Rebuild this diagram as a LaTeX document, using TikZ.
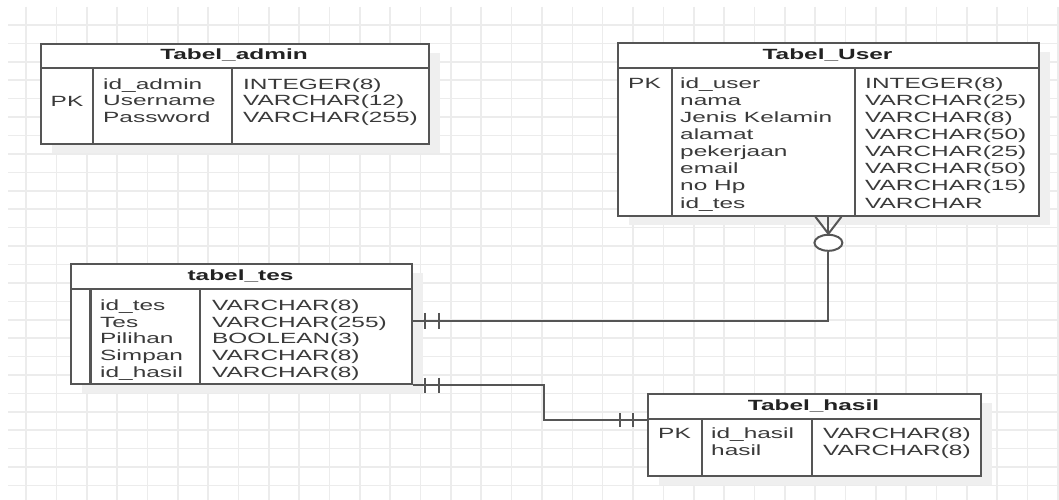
\documentclass[tikz,border=0pt]{standalone}
\usepackage{fontspec}
\usetikzlibrary{shapes.geometric}
\setmainfont{Liberation Sans}[FakeStretch=1.65]
\definecolor{gridc}{HTML}{ECECEC}
\definecolor{linec}{HTML}{555555}
\definecolor{txt}{HTML}{3A3A3A}
\definecolor{hdrc}{HTML}{222222}
\definecolor{shad}{HTML}{EFEFEF}
\tikzset{
  tbl/.style={draw=linec, line width=1.8pt, fill=white, anchor=north west, inner sep=0pt},
  tline/.style={draw=linec, line width=1.8pt},
  conn/.style={draw=linec, line width=2pt},
  cell/.style={anchor=base west, inner sep=0pt, text=txt, font=\fontsize{14.8}{17}\selectfont},
  hdr/.style={inner sep=0pt, text=hdrc, font=\fontsize{14.8}{17}\selectfont\bfseries},
  pk/.style={inner sep=0pt, text=txt, font=\fontsize{14.8}{17}\selectfont}
}
\begin{document}
\begin{tikzpicture}[x=1pt,y=-1pt]
\useasboundingbox[fill=white] (0,0) rectangle (1059,500);
% grid
\foreach \k in {0,...,34} \draw[gridc, line width=1.6pt] (26+30.35*\k,7) -- (26+30.35*\k,500);
\foreach \k in {0,...,25} \draw[gridc, line width=1.6pt] (8,25+18.42*\k) -- (1059,25+18.42*\k);
% shadows
\fill[shad] (52,53) rectangle (440,153);
\fill[shad] (629,52) rectangle (1050,225);
\fill[shad] (82,273) rectangle (423,393);
\fill[shad] (659,403) rectangle (992,485);

% Tabel_admin
\node[tbl, minimum width=388pt, minimum height=100pt] (admin) at (40,43) {};
\draw[tline] (40,68) -- (428,68);
\draw[tline] (93,68) -- (93,143);
\draw[tline] (232,68) -- (232,143);
\node[hdr] (adminh) at (234,55.5) {Tabel\_admin};
\node[pk] (adminpk) at (67,101) {PK};
\foreach \n/\t [count=\i from 0] in {id\_admin/INTEGER(8), Username/VARCHAR(12), Password/VARCHAR(255)} {
  \node[cell] (an\i) at (103,84+16.5*\i+5.3) {\n};
  \node[cell] (at\i) at (243,84+16.5*\i+5.3) {\t};
}

% Tabel_User
\node[tbl, minimum width=421pt, minimum height=173pt] (user) at (617,42) {};
\draw[tline] (617,68) -- (1038,68);
\draw[tline] (672,68) -- (672,215);
\draw[tline] (855,68) -- (855,215);
\node[hdr] (userh) at (827.5,55) {Tabel\_User};
\node[pk] (userpk) at (644.5,83) {PK};
\foreach \n/\t [count=\i from 0] in {id\_user/INTEGER(8), nama/VARCHAR(25), Jenis Kelamin/VARCHAR(8), alamat/VARCHAR(50), pekerjaan/VARCHAR(25), email/VARCHAR(50), no Hp/VARCHAR(15), id\_tes/VARCHAR} {
  \node[cell] (un\i) at (680,83+17.1*\i+5.3) {\n};
  \node[cell] (ut\i) at (865,83+17.1*\i+5.3) {\t};
}

% tabel_tes
\node[tbl, minimum width=341pt, minimum height=120pt] (tes) at (70,263) {};
\draw[tline] (70,289) -- (411,289);
\draw[draw=linec, line width=3pt] (90,289) -- (90,383);
\draw[tline] (200,289) -- (200,383);
\node[hdr] (tesh) at (240.5,276) {tabel\_tes};
\foreach \n/\t [count=\i from 0] in {id\_tes/VARCHAR(8), Tes/VARCHAR(255), Pilihan/BOOLEAN(3), Simpan/VARCHAR(8), id\_hasil/VARCHAR(8)} {
  \node[cell] (tn\i) at (100,305+16.75*\i+5.3) {\n};
  \node[cell] (tt\i) at (212,305+16.75*\i+5.3) {\t};
}

% Tabel_hasil
\node[tbl, minimum width=333pt, minimum height=82pt] (hasil) at (647,393) {};
\draw[tline] (647,419) -- (980,419);
\draw[tline] (702,419) -- (702,475);
\draw[tline] (812,419) -- (812,475);
\node[hdr] (hasilh) at (813.5,406) {Tabel\_hasil};
\node[pk] (hasilpk) at (674.5,433) {PK};
\foreach \n/\t [count=\i from 0] in {id\_hasil/VARCHAR(8), hasil/VARCHAR(8)} {
  \node[cell] (hn\i) at (711,433+17*\i+5.3) {\n};
  \node[cell] (ht\i) at (823,433+17*\i+5.3) {\t};
}

% connector Tabel_User -- tabel_tes (zero or many / one and only one)
\coordinate (cf) at ([yshift=-17pt]user.south);
\draw[conn] (user.south) -- (cf);
\draw[conn] ([xshift=-13pt]user.south) -- (cf) -- ([xshift=13pt]user.south);
\node[draw=linec, line width=2pt, fill=white, ellipse, minimum width=28pt, minimum height=16pt, inner sep=0pt] (circ) at ([yshift=-26pt]user.south) {};
\coordinate (tesin) at ([yshift=3pt]tes.east);
\draw[conn] (circ.south) |- (tesin);
\draw[conn] ([xshift=12pt,yshift=8pt]tesin) -- ([xshift=12pt,yshift=-8pt]tesin);
\draw[conn] ([xshift=26pt,yshift=8pt]tesin) -- ([xshift=26pt,yshift=-8pt]tesin);

% connector tabel_tes -- Tabel_hasil
\coordinate (hin) at ([yshift=-27pt]hasil.north west);
\draw[conn] (tes.south east) -- ++(131,0) |- (hin);
\draw[conn] ([xshift=12pt,yshift=7pt]tes.south east) -- ([xshift=12pt,yshift=-8pt]tes.south east);
\draw[conn] ([xshift=26pt,yshift=7pt]tes.south east) -- ([xshift=26pt,yshift=-8pt]tes.south east);
\draw[conn] ([xshift=-27pt,yshift=7pt]hin) -- ([xshift=-27pt,yshift=-7pt]hin);
\draw[conn] ([xshift=-14pt,yshift=7pt]hin) -- ([xshift=-14pt,yshift=-7pt]hin);
\end{tikzpicture}
\end{document}
